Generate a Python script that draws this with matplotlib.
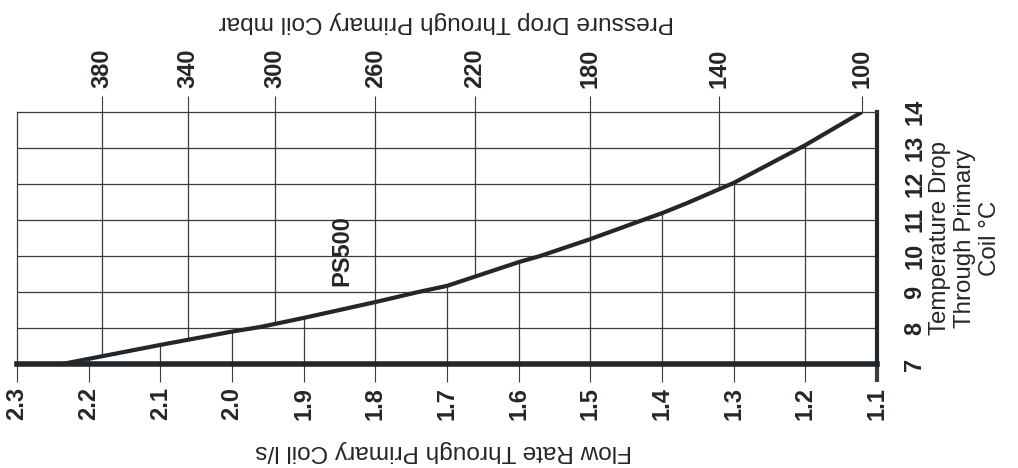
import matplotlib
matplotlib.use("Agg")
import matplotlib.pyplot as plt
import numpy as np

plt.rcParams['font.family'] = ['Liberation Sans', 'DejaVu Sans']

# curve PS500: flow rate (l/s) vs temperature drop (C)
flow = [2.237, 2.10, 2.00, 1.96, 1.90, 1.80, 1.74, 1.70, 1.60, 1.57, 1.50, 1.435, 1.40, 1.365, 1.30, 1.20, 1.121]
temp = [7.0, 7.53, 7.9, 8.03, 8.28, 8.72, 9.0, 9.17, 9.83, 10.0, 10.47, 10.94, 11.19, 11.47, 12.03, 13.08, 14.0]

# bottom axis
flow_ticks = [2.3, 2.2, 2.1, 2.0, 1.9, 1.8, 1.7, 1.6, 1.5, 1.4, 1.3, 1.2, 1.1]
flow_labels = ['2.3', '2.2', '2.1', '2.0', '1.9', '1.8', '1.7', '1.6', '1.5', '1.4', '1.3', '1.2', '1.1']

# top axis: pressure drop, placed at the flow where it sits on the chart
pressure_labels = ['380', '340', '300', '260', '220', '180', '140', '100']
pressure_at_flow = [2.181, 2.062, 1.940, 1.800, 1.661, 1.501, 1.320, 1.121]

# right axis
temp_ticks = [7, 8, 9, 10, 11, 12, 13, 14]

INK = '#232729'
GRID = '#3c3c3c'

fig = plt.figure(figsize=(10.18, 4.68), dpi=100)
ax = fig.add_axes([17/1018, 1-364/468, 860/1018, 252/468])
ax.set_xlim(2.3, 1.1)
ax.set_ylim(7, 14)

# horizontal grid, full width
ax.hlines(temp_ticks[1:-1], 2.3, 1.1, colors=GRID, lw=0.9, zorder=1)

# vertical grid: flow lines from bottom up to curve, pressure lines from top down to curve
fx = np.array(flow[::-1])
ty = np.array(temp[::-1])
for f in flow_ticks[1:-1]:
    ax.vlines(f, 7, np.interp(f, fx, ty), colors=GRID, lw=0.9, zorder=1)
for f in pressure_at_flow:
    ax.vlines(f, np.interp(f, fx, ty), 14, colors=GRID, lw=0.9, zorder=1)

ax.plot(flow, temp, color=INK, lw=3, solid_capstyle='butt', zorder=3)
ax.text(1.8465, 10.14, 'PS500', rotation=90, ha='center', va='center',
        fontsize=17, fontweight='bold', color=INK)

for s in ['left', 'top']:
    ax.spines[s].set_linewidth(0.9)
    ax.spines[s].set_color(GRID)
ax.spines['bottom'].set_linewidth(4)
ax.spines['bottom'].set_color(INK)
ax.spines['right'].set_linewidth(3)
ax.spines['right'].set_color(INK)

ax.set_xticks(flow_ticks)
ax.set_xticklabels(flow_labels, rotation=90, fontsize=17, fontweight='bold', color=INK)
ax.tick_params(axis='x', direction='out', length=13, width=0.8, color=GRID, pad=3.5)
ticks = ax.xaxis.get_major_ticks()
ticks[0].tick1line.set_visible(False)
ticks[-1].tick1line.set_markeredgewidth(3)
ticks[-1].tick1line.set_color(INK)

ax.yaxis.tick_right()
ax.set_yticks(temp_ticks)
ax.set_yticklabels([str(t) for t in temp_ticks], rotation=90, fontsize=17,
                   fontweight='bold', color=INK, va='center')
ax.tick_params(axis='y', length=0, pad=19)

ax2 = ax.twiny()
ax2.set_xlim(ax.get_xlim())
ax2.set_xticks(pressure_at_flow)
ax2.set_xticklabels(pressure_labels, rotation=90, fontsize=17, fontweight='bold', color=INK)
ax2.tick_params(axis='x', direction='out', length=11.5, width=0.8, color=GRID, pad=5.5)
for s in ax2.spines.values():
    s.set_visible(False)

fig.text(444/1018, 1-451/468, 'Flow Rate Through Primary Coil l/s', rotation=180,
         ha='center', va='center', fontsize=17.6, color=INK)
fig.text(446/1018, 1-22/468, 'Pressure Drop Through Primary Coil mbar', rotation=180,
         ha='center', va='center', fontsize=17.6, color=INK)
fig.text(965/1018, 1-238/468, 'Temperature Drop\nThrough Primary\nCoil °C', rotation=90,
         ha='center', va='center', multialignment='center', linespacing=1.15,
         fontsize=17.4, color=INK)

fig.savefig('out.png', dpi=100)
